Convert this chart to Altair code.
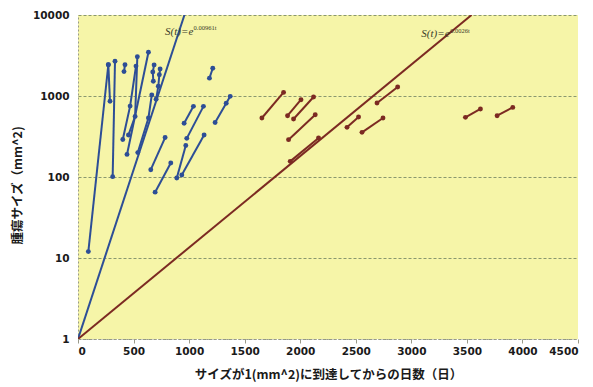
import altair as alt
import pandas as pd

# ---- data ----
# blue tumours: segment id, day, size (mm^2)
blue_id = [1, 1, 2, 2, 3, 3, 4, 4, 5, 5, 5, 6, 6, 6, 7, 7, 7, 8, 8,
           9, 9, 9, 10, 10, 10, 10, 11, 11, 12, 12, 13, 13, 14, 14, 15, 15,
           16, 16, 17, 17, 18, 18, 18]
blue_t = [93, 273, 288, 273, 312, 333, 414, 423, 403, 469, 522, 454, 514, 534, 538, 634, 664, 441, 634,
          678, 673, 685, 703, 723, 732, 739, 655, 784, 694, 835, 889, 970, 934, 1135,
          955, 1039, 979, 1129, 1183, 1213, 1234, 1334, 1370]
blue_size = [12, 2430, 860, 2430, 101, 2690, 2000, 2430, 290, 750, 2340, 330, 560, 3050, 200, 535, 1030, 190, 3470,
             1520, 1975, 2420, 910, 1320, 1830, 2150, 123, 307, 65, 149, 97, 245, 106, 330,
             460, 745, 300, 745, 1660, 2200, 470, 815, 990]

# red tumours
red_id = [1, 1, 2, 2, 3, 3, 4, 4, 5, 5, 6, 6, 7, 7, 8, 8, 9, 9, 10, 10]
red_t = [1655, 1850, 1886, 2007, 1940, 2120, 1895, 2135, 1910, 2165,
         2421, 2525, 2556, 2745, 2691, 2877, 3487, 3622, 3772, 3913]
red_size = [535, 1107, 571, 900, 520, 973, 289, 587, 156, 303,
            410, 551, 356, 535, 820, 1292, 545, 692, 571, 723]

# fitted exponential curves S(t)=e^(rt), end points
fit_group = ["blue", "blue", "red", "red"]
fit_t = [0, 958, 0, 3542]
fit_size = [1, 10000, 1, 10000]

# equation labels
eq_text = ["S(t)=e", "S(t)=e"]
eq_t = [784, 3090]
eq_size = [5710, 5400]
sup_text = ["0.00961t", "0.0026t"]
sup_t = [1040, 3350]
sup_size = [6580, 6040]

x_ticks = [0, 500, 1000, 1500, 2000, 2500, 3000, 3500, 4000, 4500]
y_ticks = [1, 10, 100, 1000, 10000]

BLUE = "#2d4e96"
RED = "#7c2a22"

# ---- tables ----
blue_df = pd.DataFrame({"seg": blue_id, "t": blue_t, "s": blue_size})
blue_df["o"] = range(len(blue_df))
blue_df["grp"] = "blue"
red_df = pd.DataFrame({"seg": [i + 100 for i in red_id], "t": red_t, "s": red_size})
red_df["o"] = range(len(red_df))
red_df["grp"] = "red"
pts = pd.concat([blue_df, red_df], ignore_index=True)
fit_df = pd.DataFrame({"grp": fit_group, "t": fit_t, "s": fit_size})
eq_df = pd.DataFrame({"txt": eq_text, "t": eq_t, "s": eq_size})
sup_df = pd.DataFrame({"txt": sup_text, "t": sup_t, "s": sup_size})

xs = alt.Scale(domain=[0, 4500], nice=False, zero=False)
ys = alt.Scale(type="log", domain=[1, 10000], nice=False)
cs = alt.Scale(domain=["blue", "red"], range=[BLUE, RED])

X = alt.X("t:Q", scale=xs,
          axis=alt.Axis(values=x_ticks, format="d",
                        title="サイズが1(mm^2)に到達してからの日数（日）",
                        grid=False, tickSize=4, labelPadding=3,
                        titleY=35, titleBaseline="middle"))
Y = alt.Y("s:Q", scale=ys,
          axis=alt.Axis(values=y_ticks, format="d",
                        title="腫瘍サイズ（mm^2)",
                        grid=True, ticks=False, labelPadding=9,
                        titleX=-61, titleY=170, titleAngle=-90,
                        titleBaseline="middle", titleAlign="center"))

fit = alt.Chart(fit_df).mark_line(strokeWidth=2, clip=True).encode(
    x=X, y=Y, color=alt.Color("grp:N", scale=cs, legend=None), detail="grp:N")

segs = alt.Chart(pts).mark_line(strokeWidth=2).encode(
    x=X, y=Y, color=alt.Color("grp:N", scale=cs, legend=None),
    detail="seg:N", order="o:Q")

dots = alt.Chart(pts).mark_circle(size=24, opacity=1).encode(
    x=X, y=Y, color=alt.Color("grp:N", scale=cs, legend=None))

eq = alt.Chart(eq_df).mark_text(align="left", baseline="alphabetic", font="Liberation Serif",
                                fontStyle="italic", fontSize=11, color="#3a3d2a").encode(
    x=X, y=Y, text="txt:N")
sup = alt.Chart(sup_df).mark_text(align="left", baseline="alphabetic", font="Liberation Serif",
                                  fontSize=6.5, color="#3a3d2a").encode(
    x=X, y=Y, text="txt:N")

chart = alt.layer(fit, segs, dots, eq, sup).properties(
    width=500, height=324,
    autosize=alt.AutoSizeParams(type="none"),
    padding={"left": 70, "top": 7, "right": 7, "bottom": 48},
).configure_view(
    fill="#f6f5a8", stroke=None
).configure_axis(
    labelFont="DejaVu Sans", labelFontWeight="bold", labelFontSize=10.5, labelColor="#1a1a1a",
    titleFont="Noto Sans CJK JP", titleFontWeight="bold", titleFontSize=12.5, titleColor="#1a1a1a",
    domainColor="#9a9a8a", domainDash=[2, 2], domainWidth=1,
    tickColor="#9a9a8a",
    gridColor="#6f7f60", gridDash=[3, 2], gridWidth=1, gridOpacity=0.8,
)

chart.save("out.html", embed_options={"renderer": "svg", "actions": False})
